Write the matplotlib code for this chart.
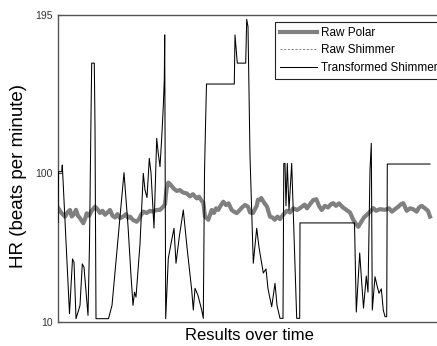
import matplotlib
matplotlib.use('Agg')
import matplotlib.pyplot as plt

plt.rcParams['font.family'] = ['Liberation Sans', 'DejaVu Sans']

# time index (arbitrary units) and heart-rate values
shimmer_t = [0, 0.5, 3.7, 4.3, 11.5, 14.5, 16, 18, 22, 24.3, 26, 30, 31.5, 33, 33.7,
             36.3, 37, 38, 50.5, 54, 66, 70, 73, 75, 76.5, 78, 82, 85.3, 87, 89,
             91.3, 93, 96, 98.7, 100, 102, 103.7, 105.3, 106.3, 106.7, 107.7, 110.3,
             113.7, 116, 118, 121.3, 125.3, 129, 133.7, 135.3, 137, 140, 143.7, 145.3,
             146.5, 147.5, 148.5, 176.3, 177, 179.3, 187.7, 188.7, 190, 192, 195.3,
             198.7, 201, 205.3, 208, 210, 213.7, 217, 219, 222, 225, 225.8, 227, 228,
             229.3, 231, 233.7, 238.7, 241.7, 242, 296.5, 298.3, 301.7, 303, 305.5,
             308.3, 310, 312, 313.3, 314.3, 317, 319, 321, 323.3, 325.3, 327, 328.7,
             329.3, 372]
shimmer_hr = [70, 100.6, 100.6, 104.6, 15, 48, 46, 12, 20, 45, 43, 14, 57, 134, 166,
              166, 128, 12, 12, 20, 100, 68, 38, 20, 28, 25, 57, 99.6, 89.5, 85,
              108.6, 100, 66.6, 120.7, 113, 103.6, 120.7, 140, 156, 183, 12, 48.4,
              59.4, 66.5, 45.4, 61.4, 77.5, 55, 29.3, 17.2, 30.3, 26, 17.2, 12.2,
              100, 128, 153.4, 153.4, 183, 166, 166, 192.4, 188, 110, 45.4,
              66.5, 55, 39.5, 42, 30, 19.2, 33.3, 20, 12.2, 12.2, 105.6, 105.6, 80,
              105.6, 77.5, 105.6, 12.2, 12.2, 69.7, 69.7, 16, 51.6, 40, 18.4,
              37.7, 28, 101.6, 117.7, 17.2, 37.3, 32, 27.3, 30, 17.2, 13.2, 13.2,
              105.2, 105.2]

polar_t = [0.3, 3, 5.3, 7, 9.5, 12, 13.7, 16, 18, 20, 22, 25.3, 27, 28.7, 31, 33.7,
           37, 39.5, 42, 44.5, 47, 49.5, 52, 54.5, 57, 59.5, 62, 65.3, 68, 70, 72, 75,
           78.7, 81, 83, 85.3, 88.7, 92, 95, 98.7, 102, 105.3, 107, 108.5, 110.3, 113,
           115.5, 118.7, 122, 125, 128.7, 132, 135, 138.7, 141, 143.7, 145.3, 147,
           149, 150.3, 153.7, 156, 158, 160.3, 162.5, 165.3, 168, 170.5, 173.7, 176,
           178.7, 181, 184, 187, 190, 192, 195, 198.7, 200, 202, 203.3, 206, 209,
           212, 214.5, 216.7, 219.5, 222, 225, 228.7, 232, 235.3, 239, 242, 245,
           246.7, 249, 252, 255.3, 258.3, 261, 263.7, 267, 270, 273, 275.3, 278,
           281, 285, 288.5, 292, 295.3, 298, 300.3, 303, 306, 310.3, 313, 315.3,
           318, 322, 327, 331, 334, 337, 340.3, 343, 345.3, 348.7, 352, 355, 358.7,
           361, 363.7, 367, 370, 372]
polar_hr = [78.6, 76, 74.6, 73.5, 76, 77.5, 73.6, 75, 77.6, 74, 72.6, 69.5, 72, 75.5,
            74, 77, 79.5, 78, 75.7, 77, 74.6, 76, 77.5, 74, 73, 75, 72.6, 73.6, 75,
            72.8, 73.5, 71.5, 70.4, 72, 74.5, 76.5, 75.7, 77, 76.5, 77.5, 77.6, 79.5,
            81, 90, 94, 92.5, 90.5, 89, 89.5, 88, 87.5, 85.7, 87, 84.5, 85.5, 83, 82,
            73.5, 72.5, 71.6, 77.5, 75.7, 78.5, 77.6, 80, 82.5, 80.5, 81.5, 77.5,
            76.5, 75.6, 77, 79, 80.5, 79.5, 76, 75.7, 80, 83.7, 83.5, 84.7, 82, 79.5,
            73.5, 73, 71.6, 73.5, 72, 74.5, 77, 76, 78.5, 77.5, 78.6, 80, 80.7, 78.5,
            81, 83.5, 84, 80, 77.5, 80, 79, 81, 81.6, 80, 81.5, 79, 77.5, 76, 71.5,
            69, 67.4, 70, 73, 75.5, 77, 78.6, 77, 78, 77.6, 78.5, 76.5, 78, 79.5, 81,
            81.6, 77, 78.5, 78, 76.5, 79, 80, 78.5, 77, 73.5]

y_ticks = [10, 100, 195]

fig = plt.figure(figsize=(4.37, 3.46), dpi=100)
ax = fig.add_axes([58 / 437, 24 / 346, 383 / 437, 307 / 346])

ax.plot(polar_t, polar_hr, color='#808080', lw=3.0, label='Raw Polar', zorder=2)
ax.plot([], [], color='#707070', lw=0.6, ls=(0, (2.5, 2)), label='Raw Shimmer')
ax.plot(shimmer_t, shimmer_hr, color='black', lw=0.75, label='Transformed Shimmer', zorder=3)

ax.set_xlim(0, 383)
ax.set_ylim(10, 195)
ax.set_xticks([])
ax.set_yticks(y_ticks)
ax.tick_params(axis='y', direction='in', length=3, pad=4, labelsize=7.5,
               labelcolor='#333333', color='#444444')

for s in ax.spines.values():
    s.set_color('#555555')
    s.set_linewidth(1.0)

ax.set_xlabel('Results over time', fontsize=12, va='top')
ax.xaxis.set_label_coords(0.501, -0.02)
ax.set_ylabel('HR (beats per minute)', fontsize=13.5)
ax.yaxis.set_label_coords(-0.081, 0.475)

leg = ax.legend(loc='upper left', bbox_to_anchor=(275 / 437, 1 - 21.7 / 346),
                bbox_transform=fig.transFigure, fontsize=8.5, frameon=True,
                fancybox=False, borderpad=0.45, labelspacing=0.45,
                handlelength=3.1, handletextpad=0.35, borderaxespad=0)
leg.get_frame().set_edgecolor('#222222')
leg.get_frame().set_linewidth(0.8)
leg.get_frame().set_alpha(1)

fig.savefig('out.png', dpi=100)
